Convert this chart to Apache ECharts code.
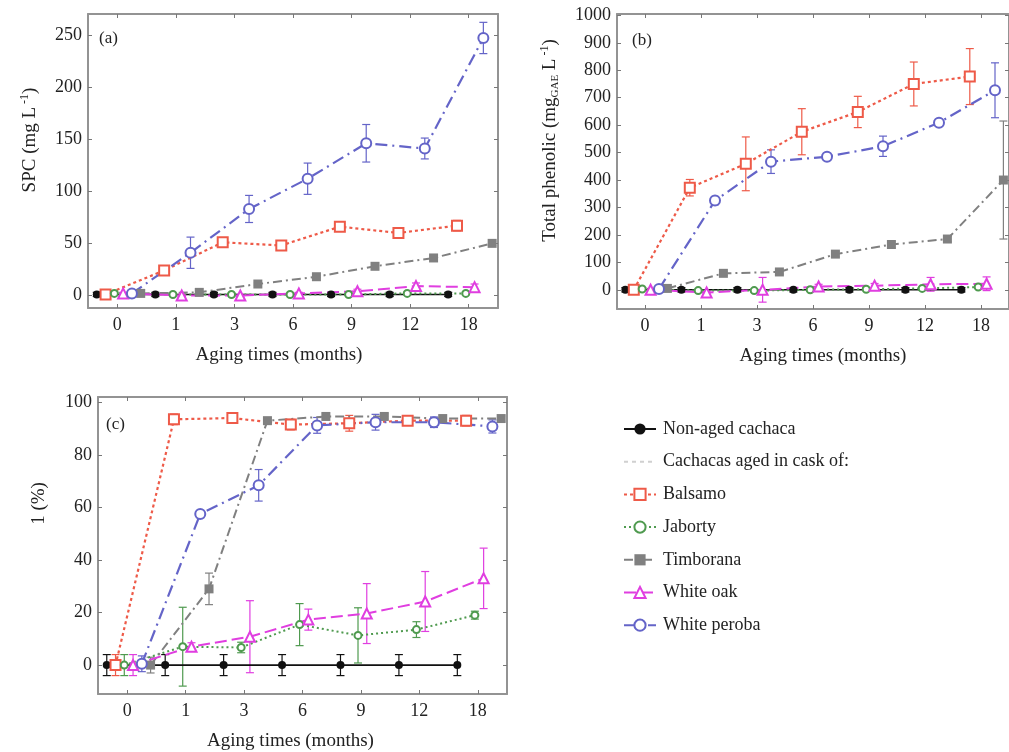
<!DOCTYPE html>
<html>
<head>
<meta charset="utf-8">
<script src="https://cdn.jsdelivr.net/npm/echarts@6/dist/echarts.min.js"></script>
<style>
  html, body { margin: 0; padding: 0; background: #fff; }
  #chart { width: 1009px; height: 752px; }
</style>
</head>
<body>
<div id="chart"></div>
<script>
// aging times (x axis categories)
const timeLabels = ['0', '1', '3', '6', '9', '12', '18'];
const seriesNames = ['Non-aged cachaca', 'Balsamo', 'Jaborty', 'Timborana', 'White oak', 'White peroba'];
const legendHeader = 'Cachacas aged in cask of:';

// (a) SPC (mg L-1)
const spcNonAged = [1, 1, 1, 1, 1, 1, 1];
const spcNonAgedErr = [2, 2, 2, 2, 2, 2, 2];
const spcBalsamo = [1, 24, 51, 48, 66, 60, 67];
const spcBalsamoErr = [2, 3, 3, 3, 3, 4, 5];
const spcJaborty = [2, 1, 1, 1, 1, 2, 2];
const spcJabortyErr = [1, 1, 1, 1, 1, 1, 1];
const spcTimborana = [2, 3, 11, 18, 28, 36, 50];
const spcTimboranaErr = [1, 1, 1, 1, 1, 2, 2];
const spcWhiteOak = [2, 0, 0, 2, 4, 9, 8];
const spcWhiteOakErr = [1, 1, 1, 1, 2, 3, 3];
const spcWhitePeroba = [2, 41, 83, 112, 146, 141, 247];
const spcWhitePerobaErr = [2, 15, 13, 15, 18, 10, 15];

// (b) total phenolic (mgGAE L-1)
const tpNonAged = [0, 0, 0, 0, 0, 0, 0];
const tpNonAgedErr = [8, 8, 8, 8, 8, 8, 8];
const tpBalsamo = [0, 372, 459, 576, 648, 750, 777];
const tpBalsamoErr = [5, 30, 98, 84, 57, 80, 102];
const tpJaborty = [3, -3, -3, 0, 2, 5, 10];
const tpJabortyErr = [5, 5, 5, 5, 5, 5, 5];
const tpTimborana = [5, 60, 65, 130, 165, 185, 400];
const tpTimboranaErr = [5, 8, 8, 10, 12, 10, 215];
const tpWhiteOak = [0, -10, 0, 12, 15, 20, 22];
const tpWhiteOakErr = [5, 5, 45, 8, 8, 25, 25];
const tpWhitePeroba = [3, 325, 467, 485, 523, 609, 727];
const tpWhitePerobaErr = [5, 15, 43, 10, 37, 10, 100];

// (c) 1 (%)
const pctNonAged = [0, 0, 0, 0, 0, 0, 0];
const pctNonAgedErr = [4, 4, 4, 4, 4, 4, 4];
const pctBalsamo = [0, 93.5, 94, 91.5, 92, 93, 93];
const pctBalsamoErr = [4, 2, 1, 2, 3, 1, 2];
const pctJaborty = [0, 7, 6.7, 15.4, 11.3, 13.5, 19];
const pctJabortyErr = [4, 15, 2, 8, 10.5, 3, 1.5];
const pctTimborana = [0, 29, 93, 94.6, 94.6, 93.8, 93.8];
const pctTimboranaErr = [3, 6, 1, 1, 1, 1, 1];
const pctWhiteOak = [0, 7, 10.8, 17.3, 19.6, 24.2, 33];
const pctWhiteOakErr = [4, 1.5, 13.7, 4, 11.4, 11.4, 11.5];
const pctWhitePeroba = [0.5, 57.5, 68.4, 91.2, 92.4, 92.4, 90.8];
const pctWhitePerobaErr = [3, 1, 6, 3, 3, 2, 2.5];

// tick labels of the y axes
const spcTicks = [0, 50, 100, 150, 200, 250];
const tpTicks = [0, 100, 200, 300, 400, 500, 600, 700, 800, 900, 1000];
const pctTicks = [0, 20, 40, 60, 80, 100];

const FONT = "'Liberation Serif', 'Times New Roman', serif";
const FRAME = '#939393';

// per series look, dodge = horizontal shift inside the time slot
const styles = [
  { color: '#111111', type: 'solid', width: 1.6, symbol: 'circle', size: 8, dodge: -0.35 },
  { color: '#ee5a48', type: [3, 3], width: 2.2, symbol: 'emptyRect', size: 10, dodge: -0.2 },
  { color: '#4f9a4f', type: [2, 3], width: 2, symbol: 'emptyCircle', size: 7, dodge: -0.05 },
  { color: '#808080', type: [9, 4, 2, 4], width: 2, symbol: 'rect', size: 9, dodge: 0.4 },
  { color: '#e03ee0', type: [12, 5], width: 2, symbol: 'emptyTriangle', size: 10, dodge: 0.1 },
  { color: '#6464c8', type: [12, 5, 2, 5], width: 2.2, symbol: 'emptyCircle', size: 10, dodge: 0.25 }
];

const panels = [
  {
    values: [spcNonAged, spcBalsamo, spcJaborty, spcTimborana, spcWhiteOak, spcWhitePeroba],
    errs: [spcNonAgedErr, spcBalsamoErr, spcJabortyErr, spcTimboranaErr, spcWhiteOakErr, spcWhitePerobaErr],
    ticks: spcTicks, min: -12, max: 270,
    yName: 'SPC (mg L{sup| -1})', yGap: 47, yPad: [0, 0, 0, 42], xPad: [0, 28, 0, 0],
    grid: { left: 88, top: 14, width: 410, height: 294 },
    tag: '(a)', tagPos: [99, 30]
  },
  {
    values: [tpNonAged, tpBalsamo, tpJaborty, tpTimborana, tpWhiteOak, tpWhitePeroba],
    errs: [tpNonAgedErr, tpBalsamoErr, tpJabortyErr, tpTimboranaErr, tpWhiteOakErr, tpWhitePerobaErr],
    ticks: tpTicks, min: -70, max: 1005,
    yName: 'Total phenolic (mg{sub|GAE} L{sup| -1})', yGap: 56, yPad: [0, 0, 0, 42], xPad: [0, 0, 0, 20],
    grid: { left: 617, top: 14, width: 397, height: 295 },
    tag: '(b)', tagPos: [632, 32]
  },
  {
    values: [pctNonAged, pctBalsamo, pctJaborty, pctTimborana, pctWhiteOak, pctWhitePeroba],
    errs: [pctNonAgedErr, pctBalsamoErr, pctJabortyErr, pctTimboranaErr, pctWhiteOakErr, pctWhitePerobaErr],
    ticks: pctTicks, min: -11, max: 102,
    yName: '1 (%)', yGap: 49, yPad: [0, 0, 0, 84], xPad: [0, 24, 0, 0],
    grid: { left: 98, top: 397, width: 409, height: 297 },
    tag: '(c)', tagPos: [106, 416]
  }
];

const xTicks = timeLabels.map((_, i) => i);
const tickStyle = { fontFamily: FONT, fontSize: 18, color: '#222' };
const nameStyle = { fontFamily: FONT, fontSize: 19, color: '#222' };
const nameRich = {
  sup: { fontFamily: FONT, fontSize: 12, verticalAlign: 'top', lineHeight: 22, color: '#222' },
  sub: { fontFamily: FONT, fontSize: 11, verticalAlign: 'bottom', lineHeight: 16, color: '#222' }
};

const grids = [];
const xAxes = [];
const yAxes = [];
const lineSeries = [];
const errSeries = [];

panels.forEach((p, pi) => {
  grids.push(p.grid);
  const xBase = {
    gridIndex: pi, type: 'value', min: -0.5, max: 6.5,
    splitLine: { show: false },
    axisLine: { show: true, onZero: false, lineStyle: { color: FRAME, width: 2 } },
    axisTick: { show: true, inside: true, length: 4, customValues: xTicks, lineStyle: { color: '#777' } }
  };
  xAxes.push(Object.assign({}, xBase, {
    position: 'bottom',
    name: 'Aging times (months)', nameLocation: 'middle', nameGap: 38,
    nameTextStyle: Object.assign({ padding: p.xPad }, nameStyle),
    axisLabel: Object.assign({ margin: 8, customValues: xTicks, formatter: v => timeLabels[Math.round(v)] }, tickStyle)
  }));
  xAxes.push(Object.assign({}, xBase, { position: 'top', axisLabel: { show: false } }));

  const yBase = {
    gridIndex: pi, type: 'value', min: p.min, max: p.max,
    splitLine: { show: false },
    axisLine: { show: true, onZero: false, lineStyle: { color: FRAME, width: 2 } },
    axisTick: { show: true, inside: true, length: 4, customValues: p.ticks, lineStyle: { color: '#777' } }
  };
  yAxes.push(Object.assign({}, yBase, {
    position: 'left',
    name: p.yName, nameLocation: 'middle', nameGap: p.yGap, nameRotate: 90,
    nameTextStyle: Object.assign({ rich: nameRich, padding: p.yPad }, nameStyle),
    axisLabel: Object.assign({ margin: 6, customValues: p.ticks, formatter: v => String(v) }, tickStyle)
  }));
  yAxes.push(Object.assign({}, yBase, { position: 'right', axisLabel: { show: false } }));

  seriesNames.forEach((name, si) => {
    const st = styles[si];
    const pts = p.values[si].map((v, i) => [i + st.dodge, v, p.errs[si][i]]);
    lineSeries.push({
      name: name, type: 'line', xAxisIndex: pi * 2, yAxisIndex: pi * 2,
      data: pts, z: 3,
      symbol: st.symbol, symbolSize: st.size,
      lineStyle: { color: st.color, type: st.type, width: st.width },
      itemStyle: { color: st.color, borderWidth: 1.5 },
      emphasis: { disabled: true },
      animation: false
    });
    errSeries.push({
      name: name, type: 'custom', xAxisIndex: pi * 2, yAxisIndex: pi * 2,
      data: pts, z: 2, silent: true,
      encode: { x: 0, y: 1 },
      renderItem: (params, api) => {
        const x = api.value(0), y = api.value(1), e = api.value(2);
        const top = api.coord([x, y + e]);
        const bot = api.coord([x, y - e]);
        const hw = 4;
        const s = { stroke: st.color, lineWidth: 1.2 };
        return {
          type: 'group',
          children: [
            { type: 'line', shape: { x1: top[0], y1: top[1], x2: bot[0], y2: bot[1] }, style: s },
            { type: 'line', shape: { x1: top[0] - hw, y1: top[1], x2: top[0] + hw, y2: top[1] }, style: s },
            { type: 'line', shape: { x1: bot[0] - hw, y1: bot[1], x2: bot[0] + hw, y2: bot[1] }, style: s }
          ]
        };
      },
      animation: false
    });
  });
});

// dummy series giving the legend its header row
lineSeries.push({
  name: legendHeader, type: 'line', data: [], xAxisIndex: 0, yAxisIndex: 0,
  symbol: 'none', itemStyle: { color: '#d0d0d0' },
  lineStyle: { color: '#d0d0d0', type: [4, 4], width: 1.5 }
});

const legendNames = [seriesNames[0], { name: legendHeader, itemStyle: { opacity: 0 } }].concat(seriesNames.slice(1));

const chart = echarts.init(document.getElementById('chart'));
chart.setOption({
  backgroundColor: '#fff',
  animation: false,
  textStyle: { fontFamily: FONT },
  title: panels.map(p => ({
    text: p.tag, left: p.tagPos[0], top: p.tagPos[1], padding: 0,
    textStyle: { fontFamily: FONT, fontSize: 17, fontWeight: 'normal', color: '#222' }
  })),
  legend: {
    data: legendNames, orient: 'vertical', left: 618, top: 414,
    itemWidth: 32, itemHeight: 14, itemGap: 12.7, selectedMode: false,
    textStyle: { fontFamily: FONT, fontSize: 18, lineHeight: 20, color: '#222', padding: [0, 0, 0, 2] }
  },
  grid: grids,
  xAxis: xAxes,
  yAxis: yAxes,
  series: lineSeries.concat(errSeries)
});
</script>
</body>
</html>
